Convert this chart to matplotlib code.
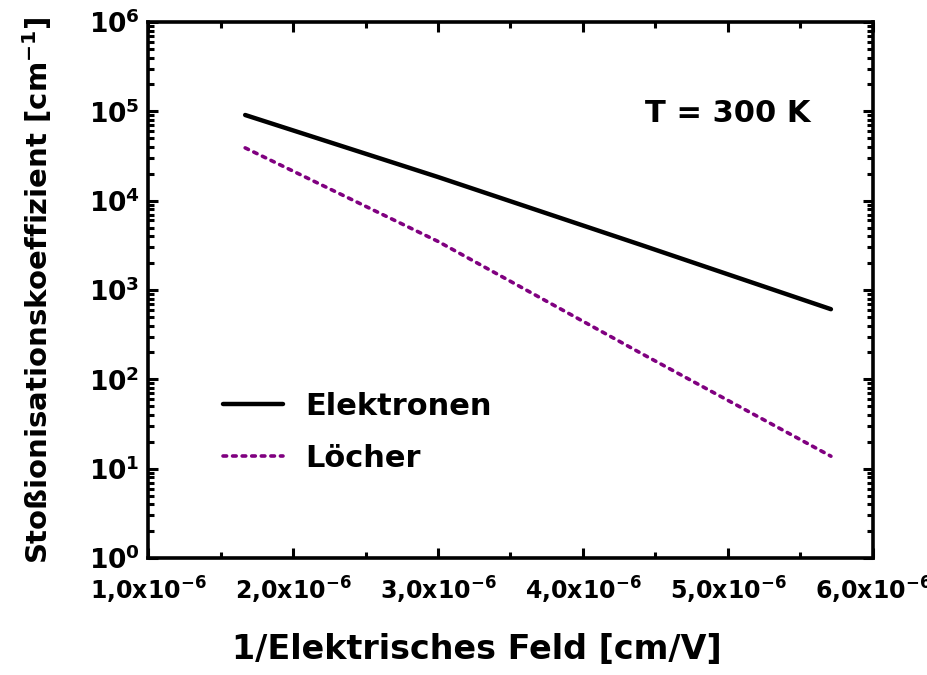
import numpy as np
import matplotlib
matplotlib.use('Agg')
import matplotlib.pyplot as plt
from matplotlib.ticker import FixedLocator, FuncFormatter, LogLocator, NullFormatter

# inverse field [cm/V] and impact ionisation coefficients [1/cm]
inv_field = [1.67e-6, 3.0e-6, 4.4e-6, 5.71e-6]
alpha_n = [9.1e4, 1.84e4, 3.2e3, 6.1e2]
alpha_p = [3.9e4, 3.5e3, 1.96e2, 1.38e1]

xticks = [1e-6, 2e-6, 3e-6, 4e-6, 5e-6, 6e-6]
xticklabels = ['1,0x10$^{-6}$', '2,0x10$^{-6}$', '3,0x10$^{-6}$',
               '4,0x10$^{-6}$', '5,0x10$^{-6}$', '6,0x10$^{-6}$']

plt.rcParams['font.family'] = ['DejaVu Sans']
plt.rcParams['font.weight'] = 'bold'
plt.rcParams['axes.labelweight'] = 'bold'
plt.rcParams['mathtext.default'] = 'bf'

fig = plt.figure(figsize=(9.28, 6.75), dpi=100)
ax = fig.add_axes([0.1595, 0.1733, 0.7812, 0.7941])

ax.plot(inv_field, alpha_n, color='black', lw=3.2, solid_capstyle='round',
        label='Elektronen')
ax.plot(inv_field, alpha_p, color='#800080', lw=2.6, ls=':',
        dash_capstyle='round', label='Löcher')

ax.set_yscale('log')
ax.set_xlim(1e-6, 6e-6)
ax.set_ylim(1, 1e6)

ax.xaxis.set_major_locator(FixedLocator(xticks))
ax.xaxis.set_major_formatter(FuncFormatter(lambda v, p: xticklabels[int(round(v * 1e6)) - 1]))
ax.xaxis.set_minor_locator(FixedLocator([1.5e-6, 2.5e-6, 3.5e-6, 4.5e-6, 5.5e-6]))
ax.yaxis.set_major_locator(LogLocator(base=10, numticks=10))
ax.yaxis.set_minor_locator(LogLocator(base=10, subs=np.arange(2, 10), numticks=10))
ax.yaxis.set_minor_formatter(NullFormatter())

ax.tick_params(which='both', direction='in', top=True, right=True, width=2.2)
ax.tick_params(which='major', length=7)
ax.tick_params(which='minor', length=4)
ax.tick_params(axis='x', labelsize=17, pad=12)
ax.tick_params(axis='y', labelsize=19, pad=6)
for s in ax.spines.values():
    s.set_linewidth(2.6)

ax.set_xlabel('1/Elektrisches Feld [cm/V]', fontsize=24)
ax.xaxis.set_label_coords(0.454, -0.14)
ax.set_ylabel('Stoßionisationskoeffizient [cm$^{-1}$]', fontsize=21)
ax.yaxis.set_label_coords(-0.13, 0.5)

ax.text(0.799, 0.83, 'T = 300 K', transform=ax.transAxes, fontsize=22,
        ha='center', va='center')

leg = ax.legend(loc='lower left', bbox_to_anchor=(0.065, 0.107), frameon=False,
                fontsize=22, handlelength=1.96, handletextpad=0.75, labelspacing=0.76)

fig.savefig('out.png', dpi=100)
